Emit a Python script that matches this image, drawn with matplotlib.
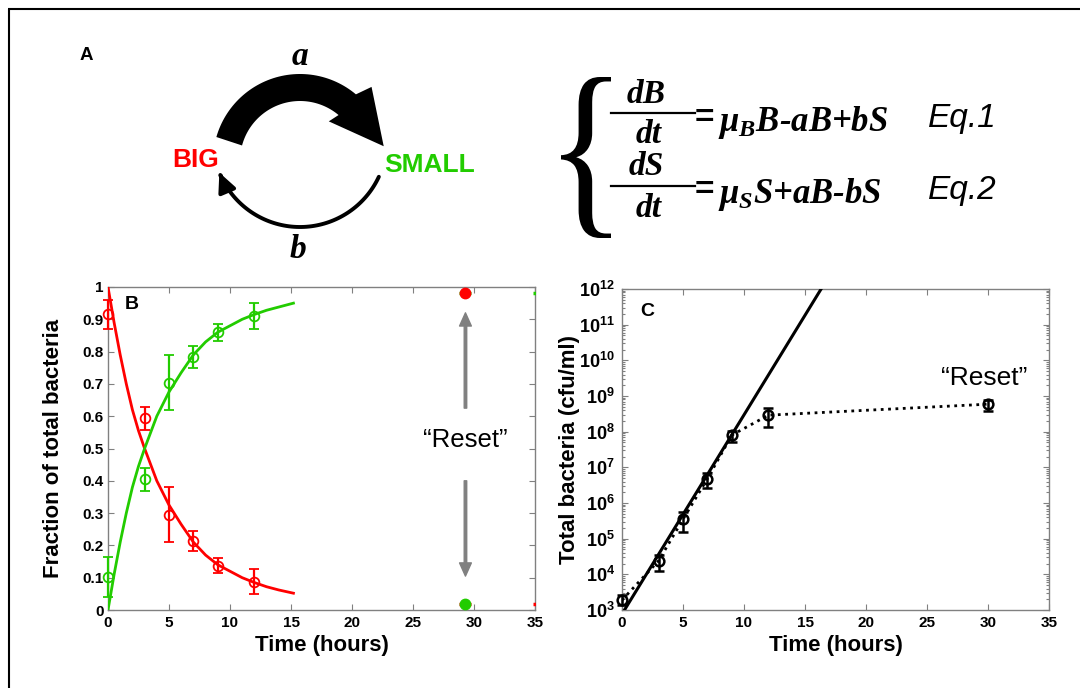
import matplotlib
matplotlib.use('Agg')
import matplotlib.pyplot as plt
import numpy as np
from matplotlib.patches import FancyArrowPatch, PathPatch, Polygon
from matplotlib.path import Path
from matplotlib.textpath import TextPath
from matplotlib.font_manager import FontProperties
from matplotlib.transforms import Affine2D
from matplotlib.ticker import LogLocator, NullFormatter

plt.rcParams['font.family'] = ['Liberation Sans', 'DejaVu Sans']
plt.rcParams['mathtext.fontset'] = 'custom'
plt.rcParams['mathtext.bf'] = 'Liberation Sans:bold'
plt.rcParams['mathtext.it'] = 'Liberation Serif:italic:bold'
plt.rcParams['mathtext.rm'] = 'Liberation Serif:bold'

# ---------------- data ----------------
# Panel B : fraction of BIG / SMALL bacteria
times = [0, 3, 5, 7, 9, 12]
big_frac = [0.915, 0.595, 0.295, 0.215, 0.137, 0.088]
big_lo = [0.87, 0.557, 0.21, 0.183, 0.114, 0.05]
big_hi = [0.96, 0.629, 0.38, 0.245, 0.16, 0.127]
small_frac = [0.103, 0.405, 0.704, 0.784, 0.86, 0.911]
small_lo = [0.04, 0.368, 0.62, 0.748, 0.833, 0.87]
small_hi = [0.165, 0.439, 0.79, 0.817, 0.885, 0.95]

fit_t = [0, 0.5, 1, 1.5, 2, 2.5, 3, 4, 5, 6, 7, 8, 9, 10, 11, 12, 13, 14, 15.2]
fit_big = [1.0, 0.89, 0.79, 0.70, 0.62, 0.555, 0.50, 0.40, 0.325, 0.265, 0.21,
           0.17, 0.14, 0.12, 0.10, 0.085, 0.072, 0.062, 0.052]
fit_small = [0.0, 0.11, 0.21, 0.30, 0.38, 0.445, 0.50, 0.60, 0.675, 0.735, 0.79,
             0.83, 0.86, 0.88, 0.90, 0.915, 0.928, 0.938, 0.95]

reset_t = [29.3]
reset_big = [0.98]
reset_small = [0.02]
edge_t = [35.3]

# Panel C : total bacteria
total_t = [0, 3, 5, 7, 9, 12, 30]
total = [1.9e3, 2.4e4, 3.5e5, 4.8e6, 8.0e7, 2.9e8, 5.9e8]
total_lo = [1.38e3, 1.26e4, 1.55e5, 2.57e6, 5.0e7, 1.32e8, 3.8e8]
total_hi = [2.63e3, 3.47e4, 5.6e5, 7.1e6, 1.07e8, 4.57e8, 7.8e8]
growth_t = [0, 17]
growth = [7.7e2, 2.4e12]

xticks = [0, 5, 10, 15, 20, 25, 30, 35]
yticks_b = [0, 0.1, 0.2, 0.3, 0.4, 0.5, 0.6, 0.7, 0.8, 0.9, 1]
ylabels_b = ['0', '0.1', '0.2', '0.3', '0.4', '0.5', '0.6', '0.7', '0.8', '0.9', '1']
exps_c = list(range(3, 13))

RED = '#ff0000'
GREEN = '#22cc00'
GRAY = '#808080'

fig = plt.figure(figsize=(10.8, 6.88), dpi=100)

# ---------------- overlay (panel A, frame) in pixel coords ----------------
ax0 = fig.add_axes([0, 0, 1, 1], zorder=0)
ax0.set_xlim(0, 1080)
ax0.set_ylim(688, 0)
ax0.axis('off')
ax0.plot([8, 1080], [9, 9], color='k', lw=1.5, solid_capstyle='butt')
ax0.plot([9, 9], [9, 688], color='k', lw=1.5, solid_capstyle='butt')

ax0.text(80, 60, 'A', fontsize=13.5, fontweight='bold', va='baseline', ha='left')


def ring_pt(cx, cy, r, deg):
    t = np.deg2rad(deg)
    return np.column_stack([cx + r * np.cos(t), cy - r * np.sin(t)])


# thick curved arrow BIG -> SMALL
outer = ring_pt(300, 161, 87, np.linspace(164, 50, 60))
inner = ring_pt(300, 161, 60, np.linspace(50, 165, 60))
head = np.vstack([ring_pt(300, 161, 103, 46), ring_pt(300, 161, 85, 10),
                  ring_pt(300, 161, 49, 54)])
ax0.add_patch(Polygon(np.vstack([outer, head, inner]), closed=True, color='k', lw=0))

# thin curved arrow SMALL -> BIG
arc = ring_pt(300, 140, 87, np.linspace(-25, -158, 80))
ax0.add_patch(FancyArrowPatch(path=Path(arc), color='k', lw=2.8,
                              arrowstyle='-|>,head_length=0.95,head_width=0.45',
                              mutation_scale=12))

serif_bi = dict(fontfamily='Liberation Serif', fontstyle='italic', fontweight='bold')
ax0.text(300, 65, 'a', fontsize=24, ha='center', va='baseline', **serif_bi)
ax0.text(298, 258, 'b', fontsize=24, ha='center', va='baseline', **serif_bi)
ax0.text(196, 167, 'BIG', color=RED, fontsize=19, fontweight='bold', ha='center', va='baseline')
ax0.text(384, 172, 'SMALL', color=GREEN, fontsize=19, fontweight='bold', ha='left', va='baseline')

# brace
tp = TextPath((0, 0), '{', size=100, prop=FontProperties(family='Liberation Serif'))
ext = tp.get_extents()
tr = Affine2D().translate(-ext.x0, -ext.y0).scale(50 / ext.width, -161 / ext.height).translate(561, 238)
ax0.add_patch(PathPatch(tr.transform_path(tp), color='k', lw=0))

for (num, yb, ybar, yden, ymain, main, eq) in [
        ('dB', 103, 113, 143, 131, r'$\mu_B$B-aB+bS', 'Eq.1'),
        ('dS', 175, 186, 217, 203, r'$\mu_S$S+aB-bS', 'Eq.2')]:
    ax0.text(646, yb, num, fontsize=24, ha='center', va='baseline', **serif_bi)
    ax0.plot([611, 695], [ybar, ybar], color='k', lw=1.6)
    ax0.text(649, yden, 'dt', fontsize=24, ha='center', va='baseline', **serif_bi)
    ax0.text(704, ymain - 4, '=', fontsize=24, fontweight='bold', ha='center', va='baseline')
    ax0.text(718, ymain, main, fontsize=25, ha='left', va='baseline', **serif_bi)
    ax0.text(928, ymain - 4, eq, fontsize=24, fontstyle='italic', ha='left', va='baseline')


def style(ax):
    for s in ax.spines.values():
        s.set_color(GRAY)
        s.set_linewidth(1.0)
    ax.tick_params(which='both', direction='in', top=True, right=True, color=GRAY,
                   width=0.8, labelsize=11)
    ax.tick_params(which='major', length=4.5)
    ax.tick_params(which='minor', length=2.5)
    ax.tick_params(axis='x', pad=4)
    ax.tick_params(axis='y', pad=3)


def unclip(container):
    for art in container.get_children():
        art.set_clip_on(False)


# ---------------- panel B ----------------
axB = fig.add_axes([108 / 1080, 78 / 688, 427 / 1080, 323 / 688], zorder=1)
axB.set_facecolor('none')
axB.plot(fit_t, fit_big, color=RED, lw=2.0, zorder=3)
axB.plot(fit_t, fit_small, color=GREEN, lw=2.0, zorder=3)
eb = dict(fmt='o', mfc='none', ms=7, mew=1.3, elinewidth=1.6, capsize=3.5, capthick=1.6, zorder=4)
unclip(axB.errorbar(times, big_frac,
                    yerr=[np.subtract(big_frac, big_lo), np.subtract(big_hi, big_frac)],
                    color=RED, **eb))
unclip(axB.errorbar(times, small_frac,
                    yerr=[np.subtract(small_frac, small_lo), np.subtract(small_hi, small_frac)],
                    color=GREEN, **eb))
axB.plot(reset_t, reset_small, marker='_', ms=9, mew=2.5, color=RED, ls='none', zorder=4)
axB.plot(reset_t, reset_big, marker='_', ms=9, mew=2.5, color=GREEN, ls='none', zorder=4)
axB.plot(reset_t, reset_big, marker='o', ms=7.5, mfc=RED, mec=RED, ls='none', zorder=5, clip_on=False)
axB.plot(reset_t, reset_small, marker='o', ms=7.5, mfc=GREEN, mec=GREEN, ls='none', zorder=5, clip_on=False)
axB.plot(edge_t, reset_big, marker='_', ms=9, mew=2.5, color=GREEN, ls='none', zorder=5)
axB.plot(edge_t, reset_small, marker='_', ms=9, mew=2.5, color=RED, ls='none', zorder=5)

arr = dict(arrowstyle='simple,head_length=0.95,head_width=0.85,tail_width=0.18',
           color=GRAY, mutation_scale=10, shrinkA=0, shrinkB=0)
axB.annotate('', xy=(29.3, 0.92), xytext=(29.3, 0.625), arrowprops=arr)
axB.annotate('', xy=(29.3, 0.105), xytext=(29.3, 0.40), arrowprops=arr)
axB.text(29.3, 0.526, '\u201cReset\u201d', fontsize=18.5, ha='center', va='center')
axB.text(1.4, 0.945, 'B', fontsize=14, fontweight='bold', ha='left', va='center')

axB.set_xlim(0, 35)
axB.set_ylim(0, 1)
axB.set_xticks(xticks, labels=[str(v) for v in xticks], fontweight='bold')
axB.set_yticks(yticks_b, labels=ylabels_b, fontweight='bold')
style(axB)
axB.set_xlabel('Time (hours)', fontsize=16, fontweight='bold')
axB.set_ylabel('Fraction of total bacteria', fontsize=16, fontweight='bold')
axB.xaxis.set_label_coords(0.5, (610 - 645) / 323)
axB.yaxis.set_label_coords((54 - 108) / 427, 0.5)
axB.xaxis.label.set_verticalalignment('center')
axB.yaxis.label.set_verticalalignment('center')

# ---------------- panel C ----------------
axC = fig.add_axes([622 / 1080, 78 / 688, 427 / 1080, 321 / 688], zorder=1)
axC.set_facecolor('none')
axC.set_yscale('log')
axC.plot(growth_t, growth, color='k', lw=2.2, zorder=3)
axC.plot(total_t, total, color='k', ls=':', lw=2.0, zorder=3)
unclip(axC.errorbar(total_t, total,
                    yerr=[np.subtract(total, total_lo), np.subtract(total_hi, total)],
                    fmt='o', color='k', mfc='none', ms=7, mew=1.8, elinewidth=1.8,
                    capsize=3.5, capthick=1.8, zorder=4))
axC.text(1.5, 10 ** 11.36, 'C', fontsize=14, fontweight='bold', ha='left', va='center')
axC.text(29.7, 10 ** 9.5, '\u201cReset\u201d', fontsize=19, ha='center', va='center')

axC.set_xlim(0, 35)
axC.set_ylim(1e3, 1e12)
axC.set_xticks(xticks, labels=[str(v) for v in xticks], fontweight='bold')
axC.set_yticks([10.0 ** e for e in exps_c],
               labels=[r'$\mathbf{10^{%d}}$' % e for e in exps_c])
axC.yaxis.set_minor_locator(LogLocator(base=10, subs=range(2, 10), numticks=20))
axC.yaxis.set_minor_formatter(NullFormatter())
style(axC)
axC.tick_params(axis='y', which='major', labelsize=13, pad=5)
axC.set_xlabel('Time (hours)', fontsize=16, fontweight='bold')
axC.set_ylabel('Total bacteria (cfu/ml)', fontsize=16, fontweight='bold')
axC.xaxis.set_label_coords(0.5, (610 - 645) / 321)
axC.yaxis.set_label_coords((569 - 622) / 427, 0.5)
axC.xaxis.label.set_verticalalignment('center')
axC.yaxis.label.set_verticalalignment('center')

fig.savefig('out.png', dpi=100)
